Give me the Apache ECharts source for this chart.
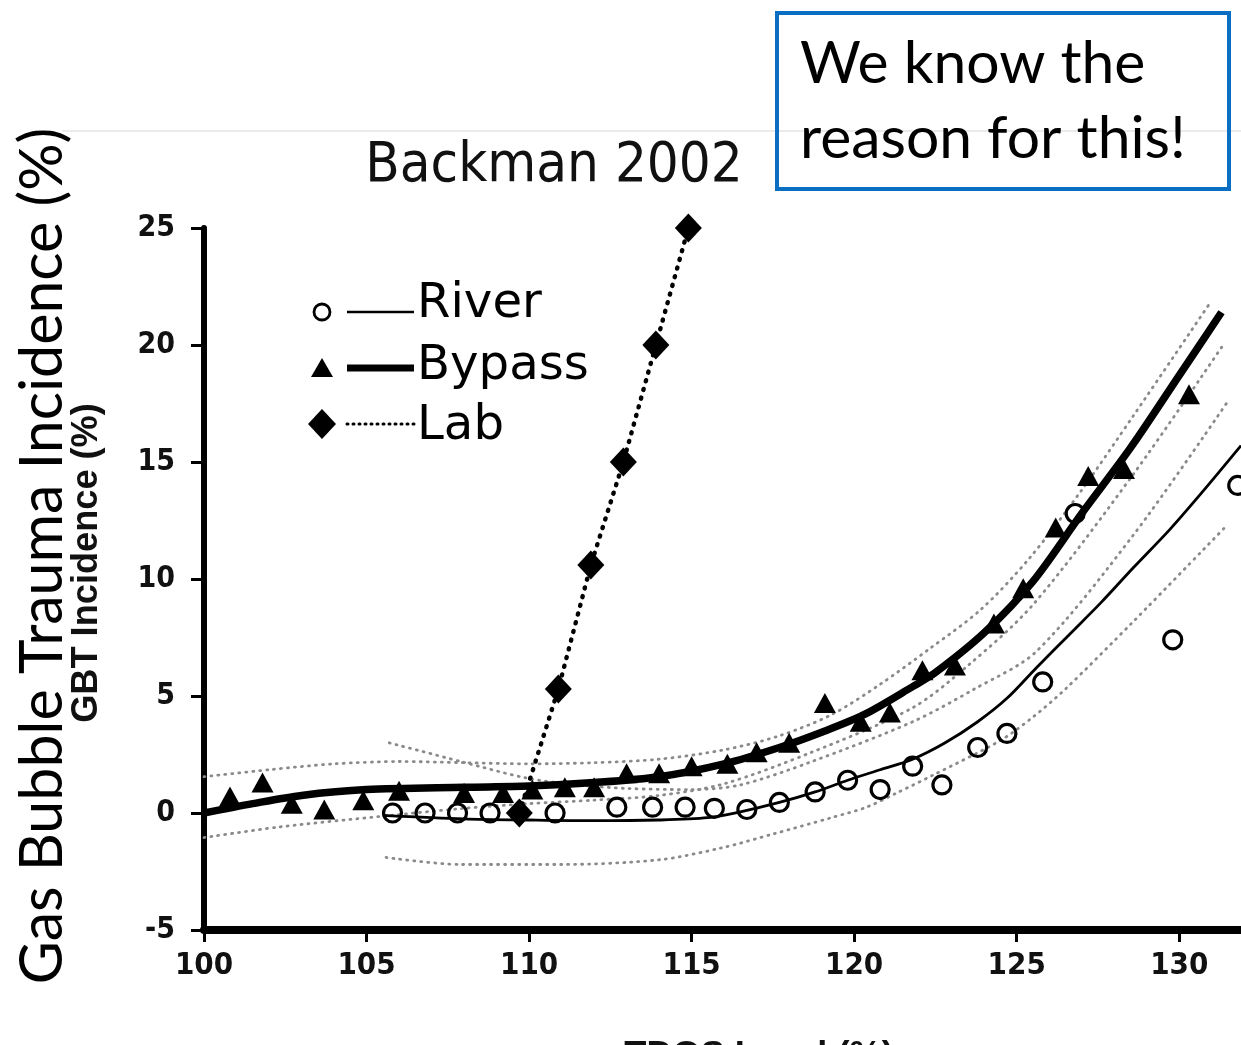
<!DOCTYPE html>
<html>
<head>
<meta charset="utf-8">
<title>Backman 2002 – GBT incidence vs TDGS</title>
<script src="https://cdn.jsdelivr.net/npm/echarts@6/dist/echarts.min.js"></script>
<style>
  html, body { margin: 0; padding: 0; background: #fff; }
  #chart { width: 1241px; height: 1045px; }
</style>
</head>
<body>
<div id="chart"></div>
<script>
// ---- data: [TDGS level (%), GBT incidence (%)] ----
const riverPoints = [
  [105.8, 0.0], [106.8, 0.0], [107.8, 0.0], [108.8, 0.0], [110.8, 0.0],
  [112.7, 0.25], [113.8, 0.25], [114.8, 0.25], [115.7, 0.2], [116.7, 0.15],
  [117.7, 0.45], [118.8, 0.9], [119.8, 1.4], [120.8, 1.0], [121.8, 2.0],
  [122.7, 1.2], [123.8, 2.8], [124.7, 3.4], [125.8, 5.6], [126.8, 12.8],
  [129.8, 7.4], [131.8, 14.0]
];
const bypassPoints = [
  [100.8, 0.7], [101.8, 1.3], [102.7, 0.4], [103.7, 0.15], [104.9, 0.55],
  [106.0, 0.95], [108.0, 0.85], [109.2, 0.85], [110.1, 1.0], [111.1, 1.1],
  [112.0, 1.1], [113.0, 1.7], [114.0, 1.7], [115.0, 2.0], [116.1, 2.1],
  [117.0, 2.6], [118.0, 3.0], [119.1, 4.7], [120.2, 3.9], [121.1, 4.3],
  [122.1, 6.1], [123.1, 6.3], [124.3, 8.1], [125.2, 9.6], [126.2, 12.2],
  [127.2, 14.4], [128.3, 14.7], [130.3, 17.9]
];
const labPoints = [
  [109.7, 0.0], [110.9, 5.3], [111.9, 10.6], [112.9, 15.0], [113.9, 20.0], [114.9, 25.0]
];

// fitted curves
const riverFit = [
  [105.5, -0.1], [108, -0.25], [110, -0.3], [112, -0.33], [114, -0.3], [115.5, -0.2],
  [116.5, 0.05], [117.7, 0.45], [118.8, 0.9], [119.8, 1.4], [120.8, 1.85], [121.8, 2.3],
  [122.8, 3.0], [123.8, 3.9], [124.7, 4.9], [125.6, 6.2], [126.6, 7.6], [127.6, 9.0],
  [128.6, 10.5], [129.7, 12.1], [130.7, 13.7], [131.9, 15.7]
];
const bypassFit = [
  [100, 0.0], [101.5, 0.4], [103, 0.75], [105, 1.0], [108, 1.1], [110, 1.15],
  [112, 1.3], [114, 1.55], [116, 2.1], [117.7, 2.8], [119, 3.45], [120.3, 4.2],
  [121.8, 5.4], [122.5, 6.0], [124, 7.7], [125.5, 9.9], [127, 12.8], [128.5, 15.6],
  [130, 18.7], [131.3, 21.4]
];

// confidence bands
const bypassUpper = [
  [100, 1.55], [102, 1.85], [104, 2.1], [106, 2.2], [108, 2.15], [110, 2.1], [112, 2.15],
  [114, 2.3], [116, 2.7], [117.7, 3.3], [119.3, 4.2], [120.8, 5.5], [122.3, 7.0],
  [123.9, 8.7], [125.4, 10.9], [127, 13.8], [128.6, 17.0], [130.9, 21.7]
];
const bypassLower = [
  [100, -1.05], [102.3, -0.6], [105.4, -0.15], [108, 0.2], [110, 0.4], [112, 0.55],
  [114, 0.75], [116, 1.25], [118.7, 2.6], [121.8, 4.5], [123.5, 6.3], [125.5, 8.9],
  [128.6, 14.5], [131.4, 20.1]
];
const riverUpper = [
  [105.7, 3.0], [107.9, 2.2], [109.9, 1.5], [111.5, 1.2], [113, 1.05], [115, 1.0],
  [116.5, 1.2], [118.7, 2.2], [121.8, 3.9], [123.7, 5.3], [125.6, 6.9], [128.6, 11.9],
  [131.5, 17.6]
];
const riverLower = [
  [105.6, -1.9], [107.9, -2.2], [111, -2.2], [114, -2.0], [115.9, -1.5], [117.5, -0.9],
  [119.3, -0.2], [120.4, 0.26], [121.3, 0.85], [122.4, 1.6], [124.5, 3.1], [125.5, 4.1],
  [126.5, 5.3], [128.6, 8.2], [131.4, 12.2]
];

const xTicks = [100, 105, 110, 115, 120, 125, 130];
const yTicks = [-5, 0, 5, 10, 15, 20, 25];

const legendNames = ['River', 'Bypass', 'Lab'];
const titleText = 'Backman 2002';
const slideAxisTitle = 'Gas Bubble Trauma Incidence (%)';
const yAxisTitle = 'GBT Incidence (%)';
const xAxisTitle = 'TDGS Level (%)';
const noteLines = ['We know the', 'reason for this!'];

// ---- fonts ----
const NARROW = '"Liberation Sans Narrow", "DejaVu Sans Condensed", sans-serif';
const SLIDE = 'Lato, "Open Sans", sans-serif';
const LEGEND = '"DejaVu Sans", sans-serif';
const LABEL = '"Liberation Sans", Arial, sans-serif';

// size a font so that a string spans a given width
const measureCtx = document.createElement('canvas').getContext('2d');
function fitSize(text, family, weight, width) {
  measureCtx.font = weight + ' 100px ' + family;
  return 100 * width / measureCtx.measureText(text).width;
}

const titleSize = fitSize(titleText, NARROW, 'normal', 378);
const slideSize = fitSize(slideAxisTitle, SLIDE, 'normal', 857);
const noteSize = fitSize(noteLines[1], SLIDE, 'normal', 386);
const labelSize = fitSize(yAxisTitle, LABEL, 'bold', 320);
const legendSize = fitSize(legendNames[1], LEGEND, 'normal', 172);

function txt(x, y, text, size, family, weight, opts) {
  opts = opts || {};
  return {
    type: 'text', x: x, y: y, rotation: opts.rotation || 0, z: 100,
    style: {
      text: text,
      font: weight + ' ' + size.toFixed(1) + 'px ' + family,
      fill: opts.fill || '#000',
      textAlign: opts.align || 'left', align: opts.align || 'left',
      textVerticalAlign: 'middle', verticalAlign: 'middle'
    }
  };
}

const ciStyle = { color: '#8a8a8a', width: 2.8, type: [1, 6], cap: 'round' };

const graphic = [
  // edge of the pasted figure
  { type: 'line', shape: { x1: 62, y1: 131, x2: 1241, y2: 131 }, style: { stroke: '#e4e4e4', lineWidth: 1.5 }, z: 1 },
  // call-out box
  { type: 'rect', shape: { x: 777, y: 13, width: 452, height: 176 }, style: { fill: 'none', stroke: '#0a6fc2', lineWidth: 4 }, z: 100 },
  txt(800, 82 - 0.3 * noteSize, noteLines[0], noteSize, SLIDE, 'normal'),
  txt(800, 157 - 0.3 * noteSize, noteLines[1], noteSize, SLIDE, 'normal'),
  // slide y-axis title
  txt(61 - 0.3 * slideSize, 556, slideAxisTitle, slideSize, SLIDE, 'normal', { rotation: Math.PI / 2, align: 'center' }),
  // chart title
  txt(554, 183 - 0.3 * titleSize, titleText, titleSize, NARROW, 'normal', { align: 'center', fill: '#111' }),
  // chart axis titles
  txt(98 - 0.3 * labelSize, 563, yAxisTitle, labelSize, LABEL, 'bold', { rotation: Math.PI / 2, align: 'center', fill: '#111' }),
  txt(759, 1068 - 0.3 * labelSize, xAxisTitle, labelSize, LABEL, 'bold', { align: 'center', fill: '#111' }),
  // legend
  { type: 'circle', shape: { cx: 322, cy: 312, r: 8 }, style: { fill: 'none', stroke: '#000', lineWidth: 2.8 }, z: 100 },
  { type: 'line', shape: { x1: 347, y1: 312, x2: 414, y2: 312 }, style: { stroke: '#000', lineWidth: 2.4 }, z: 100 },
  { type: 'polygon', shape: { points: [[322, 358], [333, 377], [311, 377]] }, style: { fill: '#000' }, z: 100 },
  { type: 'line', shape: { x1: 347, y1: 368, x2: 414, y2: 368 }, style: { stroke: '#000', lineWidth: 7 }, z: 100 },
  { type: 'polygon', shape: { points: [[322, 409], [336, 424], [322, 439], [308, 424]] }, style: { fill: '#000' }, z: 100 },
  { type: 'line', shape: { x1: 347, y1: 424, x2: 414, y2: 424 }, style: { stroke: '#000', lineWidth: 3, lineDash: [1, 5], lineCap: 'round' }, z: 100 },
  txt(417, 319 - 0.3 * legendSize, legendNames[0], legendSize, LEGEND, 'normal'),
  txt(417, 381 - 0.3 * legendSize, legendNames[1], legendSize, LEGEND, 'normal'),
  txt(417, 441 - 0.3 * legendSize, legendNames[2], legendSize, LEGEND, 'normal')
];

const chart = echarts.init(document.getElementById('chart'), null, { renderer: 'canvas' });
chart.setOption({
  animation: false,
  backgroundColor: '#fff',
  grid: { left: 204, right: 0, top: 228, bottom: 115 },
  xAxis: {
    type: 'value', min: xTicks[0], max: 131.9, interval: 5,
    axisLine: { onZero: false, lineStyle: { color: '#000', width: 8 } },
    axisTick: { show: true, length: 12, customValues: xTicks, lineStyle: { color: '#000', width: 3 } },
    axisLabel: {
      margin: 20, fontSize: 31, fontWeight: 'bold', fontFamily: NARROW, color: '#111',
      customValues: xTicks,
      formatter: v => (xTicks.indexOf(v) >= 0 ? String(v) : '')
    },
    splitLine: { show: false }
  },
  yAxis: {
    type: 'value', min: yTicks[0], max: yTicks[yTicks.length - 1], interval: 5,
    axisLine: { show: true, onZero: false, lineStyle: { color: '#000', width: 6 } },
    axisTick: { show: true, length: 13, lineStyle: { color: '#000', width: 3 } },
    axisLabel: {
      margin: 29, fontSize: 30, fontWeight: 'bold', fontFamily: NARROW, color: '#111',
      formatter: v => (yTicks.indexOf(v) >= 0 ? String(v) : '')
    },
    splitLine: { show: false }
  },
  series: [
    { name: 'Bypass upper', type: 'line', data: bypassUpper, smooth: 0.3, symbol: 'none', lineStyle: ciStyle, z: 1, silent: true },
    { name: 'Bypass lower', type: 'line', data: bypassLower, smooth: 0.3, symbol: 'none', lineStyle: ciStyle, z: 1, silent: true },
    { name: 'River upper', type: 'line', data: riverUpper, smooth: 0.3, symbol: 'none', lineStyle: ciStyle, z: 1, silent: true },
    { name: 'River lower', type: 'line', data: riverLower, smooth: 0.3, symbol: 'none', lineStyle: ciStyle, z: 1, silent: true },
    { name: 'River fit', type: 'line', data: riverFit, smooth: 0.3, symbol: 'none', lineStyle: { color: '#000', width: 2.8 }, z: 3 },
    { name: 'Bypass fit', type: 'line', data: bypassFit, smooth: 0.3, symbol: 'none', lineStyle: { color: '#000', width: 7.5 }, z: 3 },
    {
      name: 'River', type: 'scatter', data: riverPoints, symbol: 'circle', symbolSize: 18,
      itemStyle: { color: 'rgba(255,255,255,0)', borderColor: '#000', borderWidth: 3.2, opacity: 1 }, z: 5
    },
    {
      name: 'Bypass', type: 'scatter', data: bypassPoints, symbol: 'triangle', symbolSize: [22, 20],
      itemStyle: { color: '#000', opacity: 1 }, z: 5
    },
    {
      name: 'Lab', type: 'line', data: labPoints, symbol: 'diamond', symbolSize: [27, 29], showAllSymbol: true,
      itemStyle: { color: '#000', opacity: 1 }, lineStyle: { color: '#000', width: 4.5, type: [1, 8], cap: 'round' },
      z: 6, clip: false
    }
  ],
  graphic: graphic
});
</script>
</body>
</html>
